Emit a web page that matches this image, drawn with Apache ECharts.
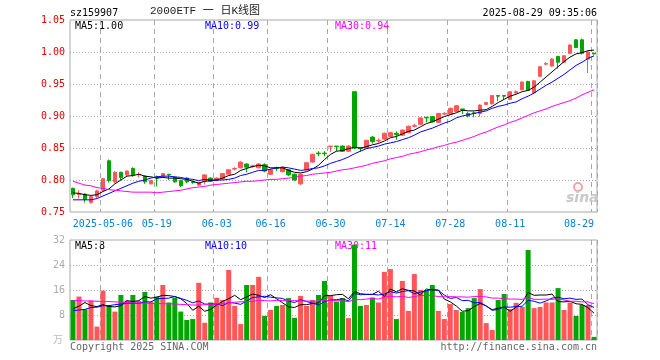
<!DOCTYPE html>
<html><head><meta charset="utf-8">
<script src="https://cdn.jsdelivr.net/npm/echarts@6/dist/echarts.min.js"></script>
<style>html,body{margin:0;padding:0;background:#fff}#c{width:660px;height:360px}</style>
</head><body><div id="c"></div>
<script>
const dates = ['2025-04-24','2025-04-25','2025-04-28','2025-04-29','2025-04-30',
'2025-05-06','2025-05-07','2025-05-08','2025-05-09','2025-05-12','2025-05-13','2025-05-14','2025-05-15','2025-05-16',
'2025-05-19','2025-05-20','2025-05-21','2025-05-22','2025-05-23','2025-05-26','2025-05-27','2025-05-28','2025-05-29','2025-05-30',
'2025-06-03','2025-06-04','2025-06-05','2025-06-06','2025-06-09','2025-06-10','2025-06-11','2025-06-12','2025-06-13',
'2025-06-16','2025-06-17','2025-06-18','2025-06-19','2025-06-20','2025-06-23','2025-06-24','2025-06-25','2025-06-26','2025-06-27',
'2025-06-30','2025-07-01','2025-07-02','2025-07-03','2025-07-04','2025-07-07','2025-07-08','2025-07-09','2025-07-10','2025-07-11',
'2025-07-14','2025-07-15','2025-07-16','2025-07-17','2025-07-18','2025-07-21','2025-07-22','2025-07-23','2025-07-24','2025-07-25',
'2025-07-28','2025-07-29','2025-07-30','2025-07-31','2025-08-01','2025-08-04','2025-08-05','2025-08-06','2025-08-07','2025-08-08',
'2025-08-11','2025-08-12','2025-08-13','2025-08-14','2025-08-15','2025-08-18','2025-08-19','2025-08-20','2025-08-21','2025-08-22',
'2025-08-25','2025-08-26','2025-08-27','2025-08-28','2025-08-29'];
const tickDates = ['2025-05-06','2025-05-19','2025-06-03','2025-06-16','2025-06-30','2025-07-14','2025-07-28','2025-08-11','2025-08-29'];
const opens = [0.787,0.777,0.778,0.765,0.774,0.784,0.830,0.797,0.812,0.808,
0.818,0.808,0.806,0.794,0.805,0.806,0.809,0.804,0.799,0.803,
0.797,0.792,0.798,0.803,0.799,0.802,0.809,0.817,0.819,0.825,
0.821,0.819,0.824,0.809,0.819,0.813,0.816,0.809,0.794,0.816,
0.828,0.842,0.842,0.852,0.853,0.853,0.845,0.938,0.850,0.850,
0.867,0.861,0.864,0.868,0.873,0.870,0.874,0.884,0.887,0.898,
0.899,0.890,0.903,0.903,0.907,0.911,0.904,0.905,0.904,0.918,
0.919,0.932,0.932,0.926,0.936,0.941,0.954,0.936,0.962,0.981,
0.978,0.993,0.984,0.998,1.019,1.019,0.989,0.998];
const closes = [0.777,0.779,0.770,0.774,0.783,0.802,0.799,0.812,0.804,0.814,
0.808,0.809,0.797,0.799,0.803,0.810,0.808,0.797,0.791,0.797,
0.796,0.796,0.808,0.798,0.803,0.810,0.816,0.818,0.828,0.820,
0.822,0.825,0.814,0.816,0.818,0.820,0.808,0.800,0.809,0.827,
0.840,0.841,0.841,0.853,0.852,0.845,0.853,0.850,0.849,0.862,
0.860,0.862,0.873,0.874,0.871,0.878,0.884,0.885,0.897,0.897,
0.891,0.904,0.904,0.912,0.916,0.910,0.900,0.904,0.917,0.921,
0.932,0.931,0.931,0.938,0.938,0.953,0.940,0.955,0.977,0.982,
0.989,0.984,0.994,1.011,1.007,0.998,1.000,0.997];
const lows = [0.772,0.771,0.765,0.763,0.772,0.783,0.796,0.795,0.800,0.806,
0.805,0.804,0.794,0.793,0.790,0.805,0.800,0.796,0.789,0.795,
0.794,0.791,0.793,0.797,0.798,0.801,0.808,0.815,0.818,0.812,
0.819,0.818,0.812,0.808,0.814,0.812,0.806,0.799,0.792,0.815,
0.827,0.837,0.837,0.844,0.845,0.844,0.844,0.848,0.844,0.849,
0.857,0.858,0.863,0.867,0.863,0.869,0.873,0.882,0.886,0.890,
0.890,0.889,0.901,0.902,0.906,0.903,0.898,0.898,0.899,0.917,
0.918,0.923,0.925,0.925,0.935,0.940,0.939,0.935,0.961,0.979,
0.977,0.974,0.983,0.997,1.006,0.996,0.967,0.996];
const highs = [0.788,0.784,0.779,0.775,0.785,0.803,0.832,0.814,0.813,0.815,
0.820,0.812,0.807,0.800,0.807,0.811,0.809,0.805,0.800,0.804,
0.799,0.797,0.809,0.804,0.804,0.811,0.817,0.820,0.829,0.826,
0.824,0.826,0.826,0.817,0.821,0.821,0.817,0.810,0.810,0.828,
0.841,0.845,0.845,0.853,0.853,0.854,0.854,0.938,0.850,0.863,
0.869,0.865,0.874,0.875,0.876,0.879,0.885,0.888,0.898,0.898,
0.900,0.905,0.906,0.913,0.917,0.911,0.906,0.907,0.918,0.922,
0.933,0.932,0.932,0.939,0.940,0.954,0.955,0.956,0.978,0.984,
0.990,0.994,0.995,1.012,1.020,1.021,1.001,0.999];
const ma5 = [0.780,0.779,0.777,0.776,0.777,0.782,0.786,0.794,0.800,0.806,
0.807,0.809,0.806,0.805,0.803,0.804,0.803,0.803,0.802,0.801,
0.798,0.795,0.798,0.799,0.800,0.803,0.807,0.809,0.815,0.818,
0.821,0.823,0.822,0.819,0.819,0.819,0.815,0.812,0.811,0.813,
0.817,0.823,0.832,0.840,0.845,0.846,0.849,0.851,0.850,0.852,
0.855,0.857,0.861,0.866,0.868,0.872,0.876,0.878,0.883,0.888,
0.891,0.895,0.899,0.902,0.905,0.909,0.908,0.908,0.909,0.910,
0.915,0.921,0.926,0.931,0.934,0.938,0.940,0.945,0.953,0.961,
0.969,0.977,0.985,0.992,0.997,0.999,1.002,1.003];
const ma10 = [0.769,0.769,0.769,0.769,0.771,0.775,0.779,0.783,0.787,0.791,
0.795,0.798,0.800,0.803,0.805,0.806,0.806,0.805,0.804,0.802,
0.801,0.799,0.801,0.800,0.800,0.800,0.801,0.803,0.807,0.809,
0.812,0.815,0.815,0.817,0.819,0.820,0.819,0.817,0.815,0.816,
0.818,0.819,0.822,0.826,0.829,0.832,0.836,0.841,0.845,0.849,
0.851,0.853,0.856,0.858,0.860,0.863,0.866,0.870,0.875,0.878,
0.881,0.885,0.889,0.892,0.897,0.900,0.902,0.904,0.906,0.908,
0.912,0.915,0.917,0.920,0.922,0.927,0.931,0.936,0.942,0.948,
0.953,0.959,0.965,0.972,0.979,0.984,0.990,0.994];
const ma30 = [0.798,0.795,0.792,0.791,0.788,0.787,0.785,0.784,0.783,0.782,
0.781,0.781,0.781,0.781,0.780,0.781,0.782,0.783,0.784,0.786,
0.788,0.789,0.790,0.792,0.793,0.794,0.795,0.796,0.797,0.798,
0.798,0.799,0.800,0.801,0.801,0.802,0.803,0.804,0.806,0.807,
0.809,0.810,0.811,0.812,0.814,0.816,0.817,0.819,0.821,0.823,
0.826,0.828,0.830,0.833,0.835,0.837,0.840,0.842,0.844,0.847,
0.849,0.852,0.854,0.857,0.859,0.862,0.865,0.868,0.872,0.875,
0.879,0.883,0.886,0.890,0.893,0.897,0.901,0.905,0.908,0.911,
0.915,0.918,0.921,0.924,0.928,0.933,0.937,0.941];
const volumes = [12.8,13.9,9.8,12.6,4.3,15.8,11.2,9.1,14.4,12.6,
14.4,12.5,15.4,12.3,13.9,17.6,12.0,13.5,9.1,6.4,
6.7,18.3,5.5,12.0,13.5,12.8,22.4,10.9,5.1,17.6,
17.6,20.2,7.7,9.6,10.9,11.2,13.4,7.1,14.1,10.9,
12.8,14.4,18.9,14.2,12.3,13.4,7.0,30.5,10.9,11.2,
13.6,12.0,21.8,22.7,6.7,18.9,9.3,21.1,16.0,16.0,
17.6,9.3,6.7,11.5,9.6,9.0,10.2,13.4,16.3,5.4,
3.2,12.8,14.7,9.9,11.9,10.6,28.8,10.2,10.6,12.0,
12.0,16.6,9.6,12.0,7.7,11.2,11.2,1.0];
const vma5 = [10.0,10.8,12.0,11.0,10.7,11.3,10.7,10.6,11.0,12.6,
12.3,12.6,13.9,13.4,13.7,14.3,14.2,13.9,13.2,11.7,
9.5,10.8,9.2,9.8,11.2,12.4,13.2,14.3,12.9,13.8,
14.7,14.3,13.6,14.5,13.2,11.9,10.6,10.4,11.3,11.3,
11.7,11.9,14.2,14.2,14.5,14.6,13.2,15.5,14.8,14.6,
14.6,15.6,13.9,16.3,15.4,16.4,15.9,15.7,14.4,16.3,
16.0,16.0,13.1,12.2,10.9,9.2,9.4,10.7,11.7,10.9,
9.7,10.2,10.5,9.2,10.5,12.0,15.2,14.3,14.4,14.4,
14.7,12.3,12.2,12.4,11.6,11.4,10.3,8.6];
const vma10 = [9.4,9.6,9.8,10.4,10.5,11.0,11.0,11.3,11.5,11.7,
11.8,11.7,12.2,12.2,13.2,13.3,13.4,13.9,13.3,12.7,
11.9,12.5,11.5,11.5,11.5,11.0,12.0,11.8,11.4,12.5,
13.6,13.8,14.0,13.7,13.5,13.3,12.4,12.0,12.9,12.3,
11.8,11.2,12.3,12.8,12.9,13.2,12.5,14.9,14.5,14.6,
14.6,14.4,14.7,15.5,15.0,15.5,15.8,14.8,15.3,15.8,
16.2,15.9,14.4,13.3,13.6,12.6,12.7,11.9,12.0,10.9,
9.5,9.8,10.6,10.5,10.7,10.8,12.7,12.4,11.8,12.5,
13.4,13.7,13.2,13.4,13.0,13.1,11.3,10.4];
const vma30 = [12.6,12.6,12.5,12.5,12.4,12.3,12.3,12.2,12.1,12.0,
11.9,11.8,11.8,11.7,11.7,11.6,11.6,11.5,11.4,11.3,
11.2,11.2,11.3,11.4,11.5,11.7,11.9,12.1,12.2,12.3,
12.4,12.7,12.6,12.5,12.7,12.6,12.6,12.6,12.5,12.5,
12.4,12.5,12.6,12.7,12.6,12.5,12.3,12.9,12.9,13.1,
13.3,13.1,13.7,14.0,13.8,14.0,13.6,13.9,14.3,14.2,
14.2,13.9,13.8,13.9,13.8,13.8,13.7,13.9,13.9,13.8,
13.4,13.4,13.2,13.1,13.1,13.0,13.7,13.0,13.0,13.1,
13.0,13.2,12.8,12.4,12.4,12.2,12.2,11.6];
const priceTicks = {min: 0.75, max: 1.05, step: 0.05};
const volTicks = {min: 0, max: 32, step: 8};

const UP = '#ff5757', DOWN = '#00a600';
const MONO = '"DejaVu Sans Mono","Liberation Mono",monospace';
const GRIDC = '#a8a8a8';
const tickSet = new Set(tickDates);
const isTick = (idx, val) => tickSet.has(val);
const candleData = dates.map((d, i) => [opens[i], closes[i], lows[i], highs[i]]);
const volData = volumes.map((v, i) => ({value: v, itemStyle: {color: closes[i] >= opens[i] ? UP : DOWN}}));

const chart = echarts.init(document.getElementById('c'), null, {renderer: 'canvas'});
const xBase = (gi, showLabel) => ({
  type: 'category', gridIndex: gi, data: dates, boundaryGap: true,
  axisLine: {show: false}, axisTick: {show: false},
  axisLabel: {show: showLabel, interval: isTick, color: '#0a82d2', fontFamily: MONO, fontSize: 10, margin: 7,
    alignMaxLabel: 'right',
    formatter: v => v === tickDates[0] ? v : v.slice(5)},
  splitLine: {show: true, interval: isTick, lineStyle: {color: GRIDC, type: [5, 4], width: 1}}
});
const line = (name, data, color, xi, yi) => ({
  name, type: 'line', data, xAxisIndex: xi, yAxisIndex: yi, symbol: 'none', showSymbol: false,
  lineStyle: {color, width: 1}, itemStyle: {color}, z: 5, silent: true
});
const txt = (x, y, text, color, extra) => ({type: 'text', left: x, top: y, style: Object.assign({text, fill: color, font: '10px ' + MONO}, extra || {})});

chart.setOption({
  animation: false,
  backgroundColor: '#fff',
  grid: [
    {left: 70, right: 63, top: 20, height: 192, show: true, borderColor: GRIDC, borderWidth: 1},
    {left: 70, right: 63, top: 240, height: 100, show: true, borderColor: GRIDC, borderWidth: 1}
  ],
  xAxis: [xBase(0, true), xBase(1, false)],
  yAxis: [
    {type: 'value', gridIndex: 0, min: priceTicks.min, max: priceTicks.max, interval: priceTicks.step,
      axisLine: {show: false}, axisTick: {show: false},
      axisLabel: {color: '#e60000', fontFamily: MONO, fontSize: 10, margin: 5, formatter: v => v.toFixed(2)},
      splitLine: {show: true, showMinLine: false, showMaxLine: false, lineStyle: {color: GRIDC, type: [1, 2]}}},
    {type: 'value', gridIndex: 1, min: volTicks.min, max: volTicks.max, interval: volTicks.step,
      axisLine: {show: false}, axisTick: {show: false},
      axisLabel: {color: '#aaaaaa', fontFamily: MONO, fontSize: 10, margin: 5, formatter: v => v === 0 ? '' : String(v)},
      splitLine: {show: true, showMinLine: false, showMaxLine: false, lineStyle: {color: GRIDC, type: [1, 2]}}}
  ],
  series: [
    {type: 'candlestick', xAxisIndex: 0, yAxisIndex: 0, data: candleData, barWidth: 4,
      itemStyle: {color: UP, color0: DOWN, borderColor: UP, borderColor0: DOWN, borderWidth: 1}, z: 3, silent: true},
    line('MA5', ma5, '#000000', 0, 0),
    line('MA10', ma10, '#0000ff', 0, 0),
    line('MA30', ma30, '#ff00ff', 0, 0),
    {type: 'bar', xAxisIndex: 1, yAxisIndex: 1, data: volData, barWidth: 5, z: 3, silent: true},
    line('VMA5', vma5, '#000000', 1, 1),
    line('VMA10', vma10, '#0000ff', 1, 1),
    line('VMA30', vma30, '#ff00ff', 1, 1)
  ],
  graphic: [
    txt(70, 8, 'sz159907', '#000'),
    {type: 'text', left: 150, top: 6, style: {text: '2000ETF 一 日K线图', fill: '#222', font: '11px "Liberation Mono","Noto Sans CJK SC",monospace'}},
    {type: 'text', right: 63, top: 8, style: {text: '2025-08-29 09:35:06', fill: '#000', font: '10px ' + MONO}},
    txt(75, 21, 'MA5:1.00', '#000'),
    txt(205, 21, 'MA10:0.99', '#0000ff'),
    txt(335, 21, 'MA30:0.94', '#ff00ff'),
    txt(75, 241, 'MA5:8', '#000'),
    txt(205, 241, 'MA10:10', '#0000ff'),
    txt(335, 241, 'MA30:11', '#ff00ff'),
    {type: 'text', right: 597, top: 334, style: {text: '万', fill: '#bbbbbb', font: '10px "Noto Sans CJK SC",sans-serif'}},
    txt(70, 342, 'Copyright 2025 SINA.COM', '#666'),
    {type: 'text', right: 63, top: 342, style: {text: 'http://finance.sina.com.cn', fill: '#666', font: '10px ' + MONO}},
    {type: 'circle', shape: {cx: 578, cy: 187, r: 4}, style: {fill: 'none', stroke: '#f2a6a6', lineWidth: 2}, z: 1},
    {type: 'text', left: 566, top: 191, z: 1, style: {text: 'sina', fill: '#c8c8c8', font: 'italic bold 14px "DejaVu Sans",sans-serif'}}
  ]
});
</script>
</body></html>
